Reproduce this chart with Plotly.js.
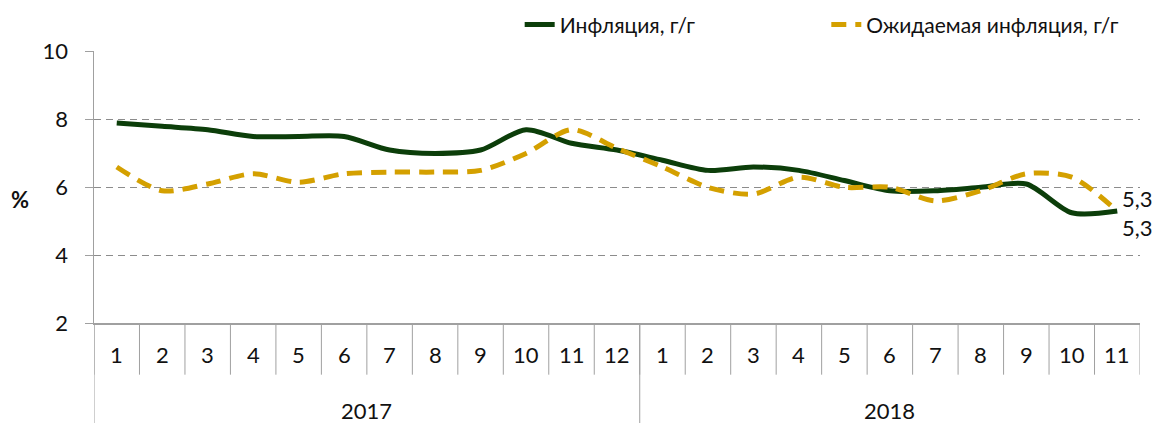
<!DOCTYPE html>
<html><head><meta charset="utf-8">
<script src="https://cdn.plot.ly/plotly-3.0.1.min.js"></script>
<style>html,body{margin:0;padding:0;background:#fff}#chart{width:1158px;height:423px}</style>
</head><body><div id="chart"></div>
<script>
const months = ["1","2","3","4","5","6","7","8","9","10","11","12","1","2","3","4","5","6","7","8","9","10","11"];
const years = ["2017","2018"];
const yearMonthCounts = [12, 11];
const inflation = [7.9,7.8,7.7,7.5,7.5,7.5,7.1,7.0,7.1,7.7,7.3,7.1,6.8,6.5,6.6,6.5,6.2,5.9,5.9,6.0,6.1,5.25,5.3];
const expected  = [6.6,5.9,6.1,6.4,6.15,6.4,6.45,6.45,6.5,7.0,7.7,7.15,6.6,6.0,5.8,6.3,6.0,6.0,5.6,5.9,6.4,6.3,5.3];
const seriesNames = ["Инфляция, г/г", "Ожидаемая инфляция, г/г"];

const idx = months.map((m,i)=>i);
const FONT = "Lato, 'Open Sans', sans-serif";
const GREEN = "#0c3e0a", GOLD = "#d4a000", GRID = "#8c8c8c", AX = "#a0a0a0", TXT = "#111";
const FS = 22;

const traces = [
  {x: idx, y: inflation, name: seriesNames[0], type: "scatter", mode: "lines", legend: "legend",
   line: {color: GREEN, width: 5, shape: "spline", smoothing: 0.8}, hoverinfo: "skip"},
  {x: idx, y: expected, name: seriesNames[1], type: "scatter", mode: "lines", legend: "legend2",
   line: {color: GOLD, width: 5, shape: "spline", smoothing: 0.8, dash: "15px,9px"}, hoverinfo: "skip"}
];

const shapes = [];
const n = months.length;
for (let i = 0; i <= n; i++) {
  shapes.push({type: "line", xref: "x", yref: "paper", x0: i - 0.5, x1: i - 0.5, y0: 0, y1: -0.19,
    line: {color: AX, width: 1}});
}
let acc = 0;
const yearCenters = [];
const yearBounds = [-0.5];
yearMonthCounts.forEach(c => { yearCenters.push(acc + (c - 1) / 2); acc += c; yearBounds.push(acc - 0.5); });
yearBounds.forEach((b, k) => {
  if (k === yearBounds.length - 1) return;
  shapes.push({type: "line", xref: "x", yref: "paper", x0: b, x1: b, y0: 0, y1: -0.37,
    line: {color: AX, width: 1}});
});

const annotations = [];
months.forEach((m, i) => annotations.push({xref: "x", yref: "paper", x: i, y: -0.117, text: m,
  showarrow: false, font: {family: FONT, size: FS, color: TXT}, yanchor: "middle"}));
years.forEach((yname, k) => annotations.push({xref: "x", yref: "paper", x: yearCenters[k], y: -0.32, text: yname,
  showarrow: false, font: {family: FONT, size: FS, color: TXT}, yanchor: "middle"}));
annotations.push({xref: "paper", yref: "paper", x: -0.071, y: 0.455, text: "<b>%</b>", showarrow: false,
  font: {family: FONT, size: FS, color: TXT}, xanchor: "center", yanchor: "middle"});
const fmt = v => v.toFixed(1).replace(".", ",");
annotations.push({xref: "x", yref: "y", x: n - 1, y: expected[n-1], text: fmt(expected[n-1]), showarrow: false,
  xanchor: "left", yanchor: "middle", xshift: 3, yshift: 13, font: {family: FONT, size: FS, color: TXT}});
annotations.push({xref: "x", yref: "y", x: n - 1, y: inflation[n-1], text: fmt(inflation[n-1]), showarrow: false,
  xanchor: "left", yanchor: "middle", xshift: 3, yshift: -16, font: {family: FONT, size: FS, color: TXT}});

const legendBase = {orientation: "h", y: 1.096, yanchor: "middle",
  font: {family: FONT, size: 21, color: TXT}, bgcolor: "rgba(0,0,0,0)"};

const layout = {
  width: 1158, height: 423,
  margin: {l: 94, r: 18, t: 51, b: 100, autoexpand: false},
  paper_bgcolor: "#fff", plot_bgcolor: "#fff",
  font: {family: FONT, size: FS, color: TXT},
  showlegend: true,
  legend: Object.assign({}, legendBase, {x: 0.58, xanchor: "right"}),
  legend2: Object.assign({}, legendBase, {x: 0.985, xanchor: "right"}),
  xaxis: {range: [-0.5, n - 0.5], showticklabels: false, ticks: "", showgrid: false, zeroline: false,
    showline: true, linecolor: AX, linewidth: 1.5, fixedrange: true},
  yaxis: {range: [2, 10.02], tickvals: [2,4,6,8,10], ticks: "outside", ticklen: 8, tickcolor: AX,
    ticklabelstandoff: 12,
    showline: true, linecolor: AX, linewidth: 1.5, showgrid: true, gridcolor: GRID, griddash: "7px,5px",
    gridwidth: 1.3, zeroline: false, tickfont: {family: FONT, size: FS, color: TXT}, fixedrange: true},
  shapes: shapes,
  annotations: annotations
};
Plotly.newPlot("chart", traces, layout, {displayModeBar: false, staticPlot: true});
</script></body></html>
